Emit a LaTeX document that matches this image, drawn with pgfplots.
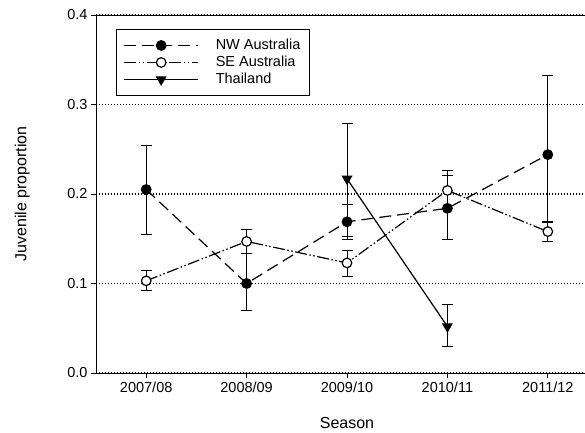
\documentclass[border=0pt]{standalone}
\usepackage{fontspec}
\setmainfont{Liberation Sans}
\usepackage{pgfplots}
\pgfplotsset{compat=1.18}

\begin{document}
\begin{tikzpicture}
% the reference is cut at the right edge, so clip the page there
\path[use as bounding box, clip] (0,0) rectangle (585pt,432pt);
\begin{axis}[
    at={(96pt,59pt)}, anchor=south west,
    scale only axis,
    width=502pt, height=358pt,
    xmin=0.5, xmax=5.5,
    ymin=0, ymax=0.4,
    xtick={1,2,3,4,5},
    xticklabels={2007/08,2008/09,2009/10,2010/11,2011/12},
    ytick={0,0.1,0.2,0.3,0.4},
    yticklabel style={/pgf/number format/.cd, fixed, fixed zerofill, precision=1},
    /pgf/number format/assume math mode=true,
    tick align=outside,
    xtick pos=bottom, ytick pos=left,
    major tick length=5pt,
    tick style={line width=1pt, black},
    axis line style={line width=1pt},
    ymajorgrids,
    grid style={black, line width=1.8pt, dash pattern=on 1.4pt off 1.6pt},
    tick label style={font=\fontsize{14.5}{17}\selectfont},
    every axis y label/.style={at={(axis description cs:-0.147,0.5)}, rotate=90,
        anchor=center, font=\fontsize{16}{19}\selectfont},
    every axis x label/.style={at={(axis description cs:0.5,-0.14)},
        anchor=center, font=\fontsize{16}{19}\selectfont},
    xlabel={Season},
    ylabel={Juvenile proportion},
    legend style={at={(axis description cs:0.04,0.961)}, anchor=north west,
        draw=black, line width=1pt, font=\fontsize{14.5}{17}\selectfont,
        inner xsep=7pt, inner ysep=8pt, row sep=1pt, column sep=15pt,
        cells={anchor=west}},
    legend image code/.code={
        \draw[mark repeat=2,mark phase=2] plot coordinates {(0pt,0pt) (37pt,0pt) (74pt,0pt)};
    },
    error bars/error bar style={line width=1pt, solid},
    error bars/error mark options={rotate=90, mark size=5.5pt, line width=1pt, solid},
]

% NW Australia
\addplot+[black, line width=1.2pt, dash pattern=on 12pt off 6pt,
    mark=*, mark size=4.8pt, mark options={solid, fill=black},
    error bars/.cd, y dir=both, y explicit]
coordinates {
(1,0.205) += (0,0.049) -= (0,0.050)
(2,0.100) += (0,0.033) -= (0,0.030)
(3,0.169) += (0,0.019) -= (0,0.020)
(4,0.184) += (0,0.037) -= (0,0.035)
(5,0.244) += (0,0.088) -= (0,0.076)
};

% SE Australia
\addplot+[black, line width=1.2pt,
    dash pattern=on 12pt off 2.5pt on 1.5pt off 2.5pt on 1.5pt off 2.5pt,
    mark=*, mark size=4.8pt, mark options={solid, fill=white},
    error bars/.cd, y dir=both, y explicit]
coordinates {
(1,0.103) += (0,0.012) -= (0,0.011)
(2,0.147) += (0,0.013) -= (0,0.013)
(3,0.123) += (0,0.014) -= (0,0.015)
(4,0.204) += (0,0.022) -= (0,0.020)
(5,0.158) += (0,0.011) -= (0,0.011)
};

% Thailand
\addplot+[black, line width=1.2pt, solid,
    mark=triangle*, mark size=5.2pt, mark options={solid, fill=black, rotate=180},
    error bars/.cd, y dir=both, y explicit]
coordinates {
(3,0.217) += (0,0.062) -= (0,0.065)
(4,0.052) += (0,0.024) -= (0,0.022)
};

\legend{NW Australia, SE Australia, Thailand}
\end{axis}
\end{tikzpicture}
\end{document}
